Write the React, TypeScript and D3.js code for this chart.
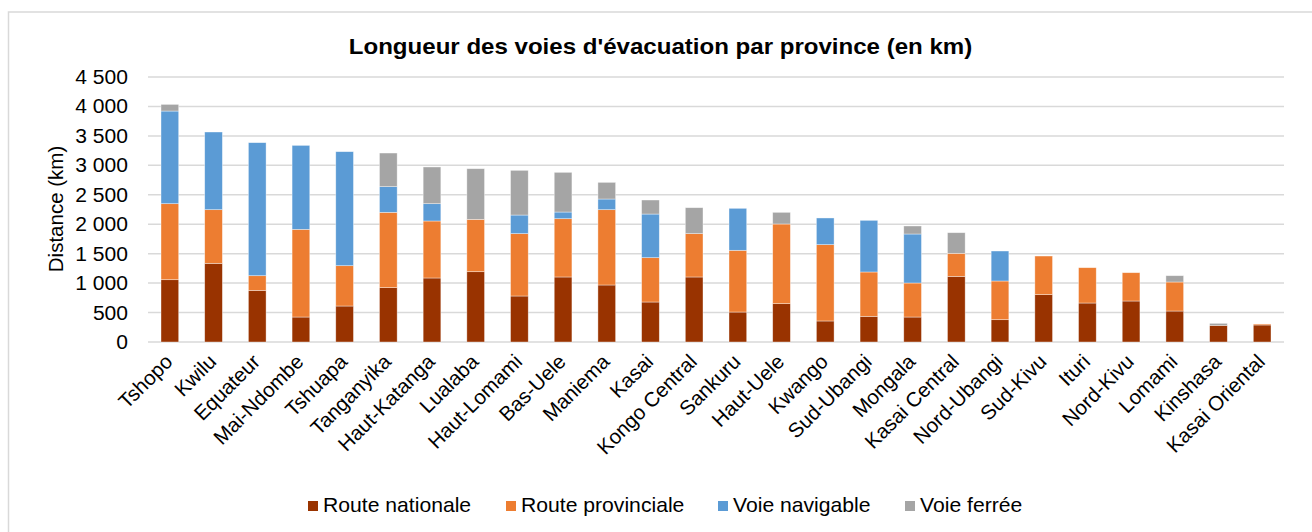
import React from "react";
import * as d3 from "d3";

const categories = ["Tshopo","Kwilu","Equateur","Mai-Ndombe","Tshuapa","Tanganyika","Haut-Katanga","Lualaba","Haut-Lomami","Bas-Uele","Maniema","Kasai","Kongo Central","Sankuru","Haut-Uele","Kwango","Sud-Ubangi","Mongala","Kasai Central","Nord-Ubangi","Sud-Kivu","Ituri","Nord-Kivu","Lomami","Kinshasa","Kasai Oriental"];
const routeNationale = [1058,1336,877,424,611,923,1087,1194,781,1104,968,679,1104,509,651,357,436,424,1115,379,804,662,696,526,283,289];
const routeProvinciale = [1291,911,249,1489,685,1279,968,889,1059,990,1279,753,736,1048,1353,1296,753,578,391,657,656,600,481,493,0,17];
const voieNavigable = [1573,1319,2259,1426,1936,436,294,0,316,113,181,741,0,713,0,453,877,832,0,509,0,0,0,0,0,0];
const voieFerree = [113,0,0,0,0,571,623,860,759,674,283,238,441,0,198,0,0,136,350,0,0,0,0,107,34,0];
const seriesNames = ["Route nationale","Route provinciale","Voie navigable","Voie ferrée"];
const yTicks = [0,500,1000,1500,2000,2500,3000,3500,4000,4500];
const title = "Longueur des voies d'évacuation par province (en km)";
const yTitle = "Distance (km)";

const colors = ["#993300","#ED7D31","#5B9BD5","#A5A5A5"];
const FONT = "'Liberation Sans', Arial, sans-serif";
const SX = 1.08;
const legendX = [308, 506, 718, 905];

export default function App() {
  const W = 1312, H = 532;
  const left = 148, right = 1284, top = 77, bottom = 342;
  const x = d3.scaleBand<string>().domain(categories).range([left, right]).paddingInner(0.595).paddingOuter(0.2975);
  const y = d3.scaleLinear().domain([0, 4500]).range([bottom, top]);
  const fmt = d3.formatLocale({ thousands: " ", grouping: [3], decimal: ",", currency: ["", ""] }).format(",d");
  const rows = categories.map((c, i) => ({ cat: c, s0: routeNationale[i], s1: routeProvinciale[i], s2: voieNavigable[i], s3: voieFerree[i] }));
  const stack = d3.stack<any>().keys(["s0","s1","s2","s3"])(rows);

  return (
    <svg width={W} height={H} style={{ position: "absolute", left: 0, top: 0, background: "#fff" }} fontFamily={FONT}>
      <rect x={0} y={0} width={W} height={H} fill="#fff" />
      <rect x={8.5} y={12} width={W + 10} height={H + 10} fill="#fff" stroke="#D9D9D9" strokeWidth={1.5} />
      <text transform={`translate(660.5,53.5) scale(${SX},1)`} textAnchor="middle" fontSize={22.3} fontWeight="bold" fill="#000">{title}</text>
      {yTicks.map(t => (
        <g key={t}>
          <line x1={left} x2={right} y1={y(t)} y2={y(t)} stroke="#D9D9D9" strokeWidth={1.5} />
          <text transform={`translate(128,${y(t) + 7}) scale(${SX},1)`} textAnchor="end" fontSize={19.5} fill="#000">{fmt(t)}</text>
        </g>
      ))}
      <text transform={`translate(63,209) rotate(-90)`} textAnchor="middle" fontSize={20.5} fill="#000">{yTitle}</text>
      {stack.map((layer, si) => (
        <g key={si} fill={colors[si]}>
          {layer.map((d, i) => {
            const h = y(d[0]) - y(d[1]);
            if (h <= 0) return null;
            return <rect key={i} x={x(categories[i])} y={y(d[1])} width={x.bandwidth()} height={h} stroke="#fff" strokeOpacity={0.55} strokeWidth={0.7} />;
          })}
        </g>
      ))}
      {categories.map(c => {
        const cx = (x(c) as number) + x.bandwidth() / 2;
        return (
          <text key={c} transform={`translate(${cx + 4},363) rotate(-45)`} textAnchor="end" fontSize={20.5} fill="#000">{c}</text>
        );
      })}
      {seriesNames.map((n, i) => (
        <g key={n}>
          <rect x={legendX[i]} y={501} width={10} height={10} fill={colors[i]} />
          <text transform={`translate(${legendX[i] + 15},512) scale(${SX},1)`} fontSize={19.6} fill="#000">{n}</text>
        </g>
      ))}
    </svg>
  );
}
